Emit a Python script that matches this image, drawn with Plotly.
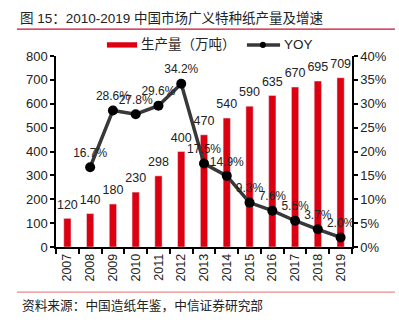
import plotly.graph_objects as go

years = ["2007","2008","2009","2010","2011","2012","2013","2014","2015","2016","2017","2018","2019"]
output = [120,140,180,230,298,400,470,540,590,635,670,695,709]
yoy_years = ["2008","2009","2010","2011","2012","2013","2014","2015","2016","2017","2018","2019"]
yoy = [16.7,28.6,27.8,29.6,34.2,17.5,14.9,9.3,7.6,5.5,3.7,2.0]

FONT = "Liberation Sans, Arial, Noto Sans CJK SC, sans-serif"
CJK = "Liberation Sans, Noto Sans CJK SC, sans-serif"
RED = "#dc0011"

fig = go.Figure()
fig.add_trace(go.Bar(
    x=years, y=output, name="生产量（万吨）",
    marker_color=RED, width=0.32,
))
# bar value labels
fig.add_trace(go.Scatter(
    x=years, y=output, mode="markers+text",
    marker=dict(size=9, opacity=0),
    text=[str(v) for v in output], textposition="top center",
    textfont=dict(size=12.5, color="#222"), cliponaxis=False,
    hoverinfo="skip",
))
fig.add_trace(go.Scatter(
    x=yoy_years, y=[v/100 for v in yoy], name="YOY", yaxis="y2",
    mode="lines+markers+text",
    line=dict(color="#383838", width=3.5),
    marker=dict(color="black", size=10),
    text=[f"{v:.1f}%" for v in yoy], textposition="top center",
    textfont=dict(size=12, color="#222"), cliponaxis=False,
))

fig.update_layout(
    width=399, height=324,
    margin=dict(l=56, r=47, t=56, b=77),
    paper_bgcolor="white", plot_bgcolor="white",
    font=dict(family=FONT, size=12, color="#222"),
    showlegend=False,
    xaxis=dict(
        type="category", range=[-0.5, 12.5],
        showline=True, linecolor="black", linewidth=1.5,
        ticks="outside", ticklen=5, tickcolor="black", tickwidth=1.5,
        tickangle=-90, tickson="boundaries",
        showgrid=False, tickfont=dict(size=12.5, color="#222"),
    ),
    yaxis=dict(
        range=[0, 800], dtick=100,
        showline=True, linecolor="black", linewidth=1.5,
        ticks="outside", ticklen=4, tickcolor="black", tickwidth=1.5,
        showgrid=False, zeroline=False, tickfont=dict(size=13, color="#222"),
    ),
    yaxis2=dict(
        range=[0, 0.4], dtick=0.05, tickformat=".0%",
        overlaying="y", side="right",
        showline=True, linecolor="black", linewidth=1.5,
        ticks="outside", ticklen=4, tickcolor="black", tickwidth=1.5,
        showgrid=False, zeroline=False, tickfont=dict(size=13, color="#222"),
    ),
)

# custom legend
fig.add_shape(type="rect", xref="paper", yref="paper",
              x0=0.172, x1=0.274, y0=1.044, y1=1.072,
              fillcolor=RED, line=dict(width=0))
fig.add_annotation(text="生产量（万吨）", xref="paper", yref="paper",
                   x=0.282, y=1.058, xanchor="left", yanchor="middle",
                   showarrow=False, font=dict(family=CJK, size=13.5, color="#222"))
fig.add_shape(type="line", xref="paper", yref="paper",
              x0=0.645, x1=0.757, y0=1.058, y1=1.058,
              line=dict(color="#383838", width=3.5))
fig.add_shape(type="circle", xref="paper", yref="paper",
              x0=0.689, x1=0.709, y0=1.042, y1=1.074,
              fillcolor="black", line=dict(width=0))
fig.add_annotation(text="YOY", xref="paper", yref="paper",
                   x=0.763, y=1.058, xanchor="left", yanchor="middle",
                   showarrow=False, font=dict(family=CJK, size=13.5, color="#222"))

fig.add_annotation(
    text="图 15：2010-2019 中国市场广义特种纸产量及增速",
    xref="paper", yref="paper", x=-0.128, y=1.199,
    xanchor="left", yanchor="middle", showarrow=False,
    font=dict(family=CJK, size=13.5, color="#222"),
)
fig.add_shape(type="line", xref="paper", yref="paper",
              x0=-0.132, x1=1.145, y0=1.141, y1=1.141,
              line=dict(color="#c8102e", width=1.2))
fig.add_shape(type="line", xref="paper", yref="paper",
              x0=-0.132, x1=1.145, y0=-0.236, y1=-0.236,
              line=dict(color="#e88a8a", width=1.2))
fig.add_annotation(
    text="资料来源：中国造纸年鉴，中信证券研究部",
    xref="paper", yref="paper", x=-0.122, y=-0.304,
    xanchor="left", yanchor="middle", showarrow=False,
    font=dict(family=CJK, size=12.7, color="#222"),
)

fig.write_html("out.html")
